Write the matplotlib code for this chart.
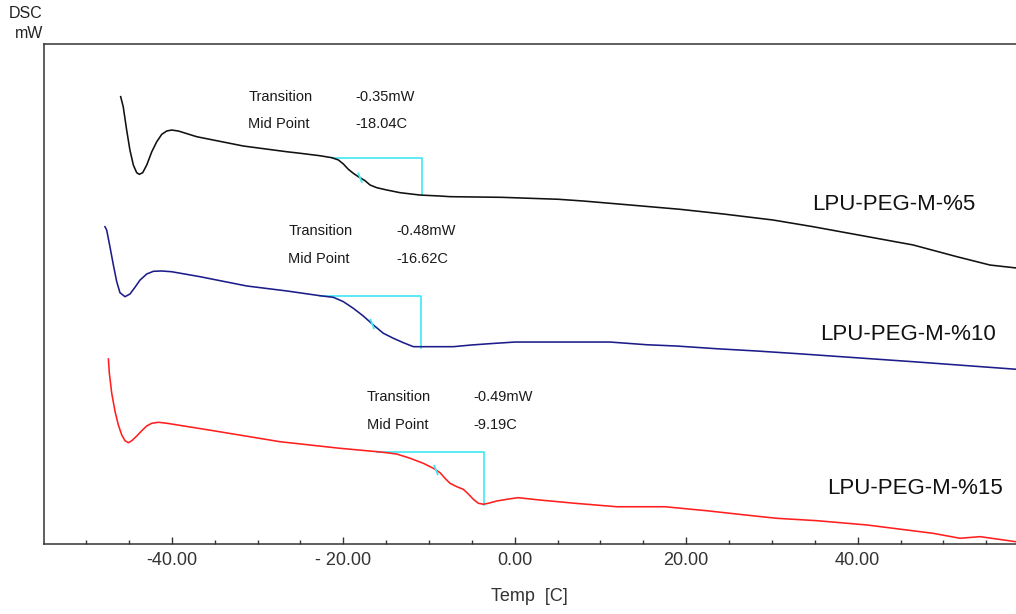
import matplotlib
matplotlib.use("Agg")
import matplotlib.pyplot as plt
from matplotlib.ticker import MultipleLocator, FixedLocator
import numpy as np

plt.rcParams['font.family'] = ['Liberation Sans', 'DejaVu Sans']

# ---- DSC thermograms: temperature [C] and heat flow [mW] ----
temp_5 = [-45.96, -45.66, -45.26, -44.88, -44.48, -44.09, -43.78, -43.39, -42.92, -42.33,
          -41.75, -41.17, -40.59, -40.01, -39.23, -37.08, -31.65, -26.59, -25.04, -22.71,
          -21.34, -20.57, -19.99, -19.40, -18.82, -18.24, -17.46, -16.87, -16.09, -14.93,
          -13.38, -11.04, -8.71, -7.54, -1.52, 5.05, 7.96, 13.45, 19.28, 24.29,
          30.12, 34.79, 46.45, 51.58, 55.43, 58.46]
flow_5 = [4.142, 4.049, 3.833, 3.648, 3.509, 3.438, 3.423, 3.438, 3.509, 3.632,
          3.725, 3.793, 3.824, 3.833, 3.824, 3.771, 3.685, 3.632, 3.618, 3.595,
          3.577, 3.556, 3.519, 3.469, 3.432, 3.401, 3.364, 3.324, 3.299, 3.278,
          3.253, 3.231, 3.222, 3.216, 3.210, 3.192, 3.176, 3.139, 3.099, 3.056,
          3.000, 2.938, 2.769, 2.660, 2.583, 2.556]

temp_10 = [-47.79, -47.59, -47.21, -46.81, -46.42, -46.04, -45.45, -44.87, -44.29, -43.70,
           -42.92, -42.14, -41.17, -40.00, -36.70, -31.25, -26.59, -22.71, -21.15, -19.99,
           -18.82, -17.66, -16.49, -15.32, -14.16, -12.99, -11.82, -7.16, -5.01, -2.88,
           0.03, 11.11, 15.39, 18.89, 23.56, 28.22, 33.04, 46.45, 58.46]
flow_10 = [2.938, 2.907, 2.753, 2.583, 2.429, 2.327, 2.290, 2.315, 2.377, 2.444,
           2.500, 2.525, 2.528, 2.521, 2.475, 2.389, 2.343, 2.299, 2.284, 2.244,
           2.182, 2.111, 2.028, 1.951, 1.905, 1.864, 1.827, 1.827, 1.843, 1.855,
           1.870, 1.870, 1.845, 1.833, 1.808, 1.787, 1.762, 1.688, 1.618]

temp_15 = [-47.39, -47.28, -47.00, -46.61, -46.23, -45.83, -45.45, -45.06, -44.67, -44.08,
           -43.50, -42.92, -42.33, -41.56, -40.58, -35.15, -27.37, -20.37, -16.09, -14.93,
           -13.76, -12.21, -10.66, -9.49, -8.71, -8.13, -7.55, -6.77, -5.99, -5.41,
           -4.83, -4.24, -3.66, -3.08, -2.10, -0.93, 0.38, 2.95, 7.03, 11.90,
           17.53, 22.39, 26.62, 30.55, 35.22, 41.09, 48.78, 51.93, 54.27, 58.46]
flow_15 = [1.713, 1.581, 1.395, 1.225, 1.102, 1.009, 0.956, 0.938, 0.956, 1.000,
           1.049, 1.093, 1.118, 1.127, 1.118, 1.049, 0.947, 0.886, 0.855, 0.845,
           0.833, 0.794, 0.747, 0.701, 0.660, 0.608, 0.562, 0.531, 0.506, 0.463,
           0.414, 0.377, 0.368, 0.377, 0.398, 0.414, 0.429, 0.407, 0.377, 0.345,
           0.345, 0.308, 0.271, 0.238, 0.216, 0.176, 0.099, 0.053, 0.068, 0.021]

# Glass-transition analysis results
sample_names = ["LPU-PEG-M-%5", "LPU-PEG-M-%10", "LPU-PEG-M-%15"]
transition_mw = [-0.35, -0.48, -0.49]
midpoint_c = [-18.04, -16.62, -9.19]
onset_c = [-21.34, -22.71, -16.09]
endset_c = [-10.85, -10.96, -3.55]
onset_level = [3.577, 2.299, 0.855]

tick_values = [-40, -20, 0, 20, 40]
tick_labels = ["-40.00", "- 20.00", "0.00", "20.00", "40.00"]

curve_colors = ["#111111", "#1c1c8a", "#ff1f1f"]
step_color = "#3ee8f5"
text_color = "#1a1a1a"

fig = plt.figure(figsize=(10.16, 6.14), dpi=100)
ax = fig.add_axes([44 / 1016, 70 / 614, 972 / 1016, 500 / 614])
ax.set_xlim(-54.9, 58.46)
ax.set_ylim(0, 500 / 108)

curves = [(temp_5, flow_5), (temp_10, flow_10), (temp_15, flow_15)]
for (t, f), c in zip(curves, curve_colors):
    ax.plot(t, f, color=c, lw=1.15, solid_joinstyle="round", zorder=2)

for i, (t, f) in enumerate(curves):
    lvl = onset_level[i]
    low = lvl + transition_mw[i]
    # analysis step: onset baseline, then drop by the transition height
    ax.plot([onset_c[i], endset_c[i], endset_c[i]], [lvl, lvl, low],
            color=step_color, lw=1.2, zorder=1)
    # midpoint marker on the curve
    ym = np.interp(midpoint_c[i], t, f)
    ax.plot([midpoint_c[i] - 0.2, midpoint_c[i] + 0.2], [ym + 0.04, ym - 0.04],
            color=step_color, lw=1.3, zorder=3)

# analysis labels
label_pos = [(-31.08, -18.62, 4.139, 3.889),
             (-26.42, -13.84, 2.901, 2.639),
             (-17.26, -4.83, 1.364, 1.102)]
for (xl, xv, y1, y2), tr, mp in zip(label_pos, transition_mw, midpoint_c):
    kw = dict(fontsize=10.5, color=text_color, va="center", ha="left")
    ax.text(xl, y1, "Transition", **kw)
    ax.text(xv, y1, f"{tr:.2f}mW", **kw)
    ax.text(xl, y2, "Mid Point", **kw)
    ax.text(xv, y2, f"{mp:.2f}C", **kw)

name_pos = [(34.64, 3.139), (35.60, 1.944), (36.38, 0.516)]
for (x, y), name in zip(name_pos, sample_names):
    ax.text(x, y, name, fontsize=16, color="#111111", va="center", ha="left")

# axes frame: left, top and bottom only
for side in ("left", "top", "bottom"):
    ax.spines[side].set_color("#333333")
    ax.spines[side].set_linewidth(1.1)
ax.spines["right"].set_visible(False)

ax.xaxis.set_major_locator(FixedLocator(tick_values))
ax.set_xticklabels(tick_labels)
ax.xaxis.set_minor_locator(MultipleLocator(5))
ax.tick_params(axis="x", which="major", direction="in", length=5, width=1,
               color="#333333", labelsize=13, labelcolor="#333333", pad=6)
ax.tick_params(axis="x", which="minor", direction="in", length=3, width=1,
               color="#333333")
ax.set_yticks([])

fig.text(529 / 1016, 1 - 596.5 / 614, "Temp  [C]", fontsize=13, color="#333333",
         ha="center", va="center")
fig.text(43 / 1016, 1 - 13 / 614, "DSC", fontsize=11.5, color="#222222",
         ha="right", va="center")
fig.text(43 / 1016, 1 - 33 / 614, "mW", fontsize=11.5, color="#222222",
         ha="right", va="center")

fig.savefig("out.png", dpi=100)
